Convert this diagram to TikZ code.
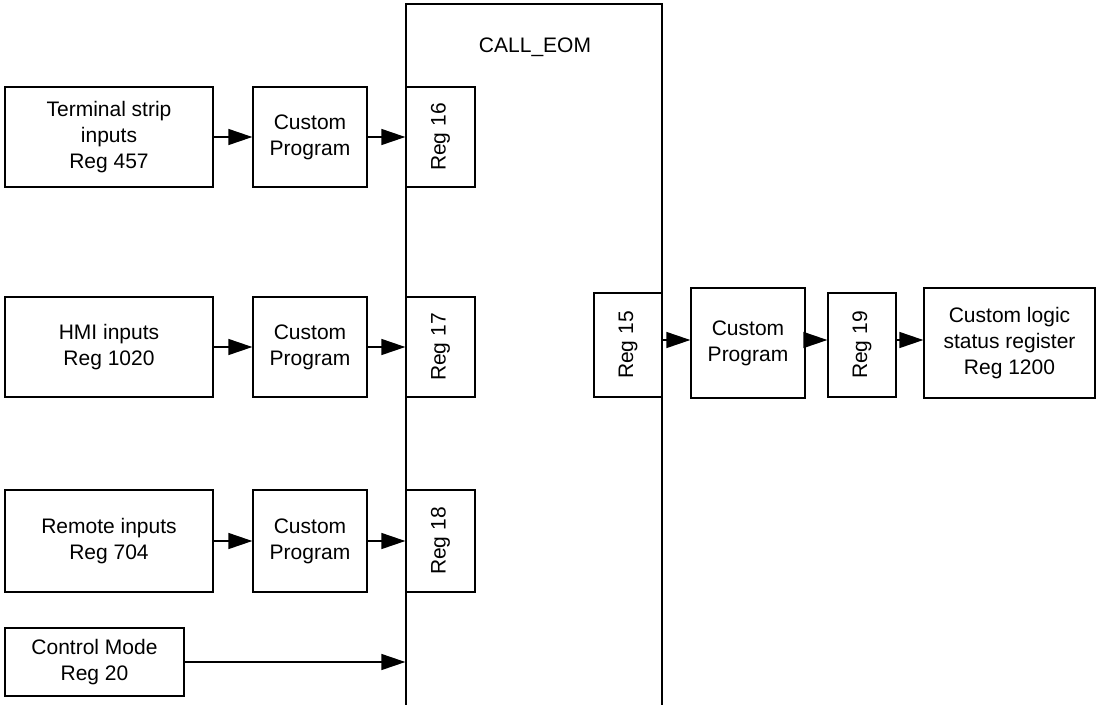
\documentclass[tikz,border=0pt]{standalone}
\usepackage{fontspec}
\setmainfont{Liberation Sans}
\usetikzlibrary{arrows.meta}
\begin{document}
\begin{tikzpicture}[x=1pt,y=-1pt,
  box/.style={draw,line width=1.3pt,inner sep=0pt,align=center,font=\fontsize{21}{26}\selectfont},
  conn/.style={line width=1.3pt,-{Triangle[length=24pt,width=16pt]}}]
\useasboundingbox (0,0) rectangle (1099,704);
\clip (0,0) rectangle (1099,704);
\node[box,minimum width=256pt,minimum height=720pt] (eom) at (534,364) {};
\node[font=\fontsize{21}{26}\selectfont] (title) at (535,47) {CALL\_EOM};
% row 1
\node[box,minimum width=208pt,minimum height=100pt] (ts) at (109,137) {Terminal strip\\inputs\\Reg 457};
\node[box,minimum width=114pt,minimum height=100pt] (cp1) at (310,137) {Custom\\Program};
\node[box,minimum width=69pt,minimum height=100pt] (r16) at (440.5,137) {\rotatebox{90}{Reg 16}};
% row 2
\node[box,minimum width=208pt,minimum height=100pt] (hmi) at (109,347) {HMI inputs\\Reg 1020};
\node[box,minimum width=114pt,minimum height=100pt] (cp2) at (310,347) {Custom\\Program};
\node[box,minimum width=69pt,minimum height=100pt] (r17) at (440.5,347) {\rotatebox{90}{Reg 17}};
% row 3
\node[box,minimum width=208pt,minimum height=102pt] (rem) at (109,541) {Remote inputs\\Reg 704};
\node[box,minimum width=114pt,minimum height=102pt] (cp3) at (310,541) {Custom\\Program};
\node[box,minimum width=69pt,minimum height=102pt] (r18) at (440.5,541) {\rotatebox{90}{Reg 18}};
% control mode
\node[box,minimum width=179pt,minimum height=68pt] (cm) at (94.5,662) {Control Mode\\Reg 20};
% right side
\node[box,minimum width=68pt,minimum height=104pt] (r15) at (628,345) {\rotatebox{90}{Reg 15}};
\node[box,minimum width=114pt,minimum height=110pt] (cp4) at (748,343) {Custom\\Program};
\node[box,minimum width=68pt,minimum height=104pt] (r19) at (862,345) {\rotatebox{90}{Reg 19}};
\node[box,minimum width=171pt,minimum height=110pt] (csl) at (1009.5,343) {Custom logic\\status register\\Reg 1200};
% connectors
\draw[conn] (ts) -- (cp1);
\draw[conn] (cp1) -- (r16);
\draw[conn] (hmi) -- (cp2);
\draw[conn] (cp2) -- (r17);
\draw[conn] (rem) -- (cp3);
\draw[conn] (cp3) -- (r18);
\draw[conn] (cm.east) -- (cm.east -| eom.west);
\draw[conn] (r15.east |- 0,340) -- (cp4.west |- 0,340);
\draw[conn] (cp4.east |- 0,340) -- (r19.west |- 0,340);
\draw[conn] (r19.east |- 0,340) -- (csl.west |- 0,340);
\end{tikzpicture}
\end{document}
